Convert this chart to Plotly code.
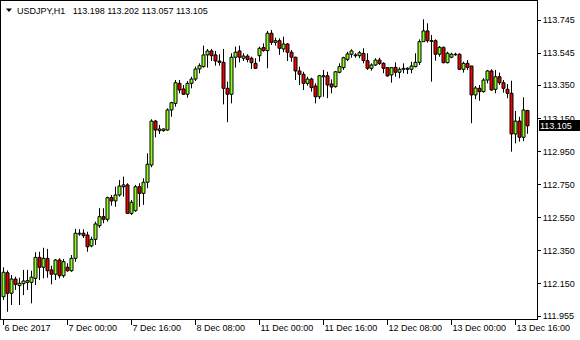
import plotly.graph_objects as go

# ---- data (USDJPY H1, bar index 0 = 6 Dec 2017 08:00) ----
opens = [112.072,112.217,112.093,112.179,112.139,112.151,112.159,112.159,112.183,112.310,
         112.250,112.304,112.234,112.208,112.294,112.199,112.250,112.229,112.304,112.451,
         112.456,112.445,112.379,112.419,112.501,112.556,112.540,112.671,112.651,112.687,
         112.737,112.748,112.576,112.592,112.737,112.697,112.764,112.868,113.134,113.076,
         113.076,113.080,113.201,113.241,113.362,113.328,113.296,113.362,113.388,113.449,
         113.463,113.534,113.558,113.534,113.497,113.489,113.332,113.296,113.520,113.558,
         113.514,113.527,113.514,113.483,113.529,113.578,113.560,113.665,113.610,113.620,
         113.570,113.600,113.550,113.520,113.437,113.417,113.362,113.388,113.346,113.281,
         113.402,113.408,113.358,113.342,113.429,113.457,113.507,113.538,113.529,113.529,
         113.543,113.499,113.453,113.473,113.503,113.483,113.457,113.413,113.459,113.429,
         113.447,113.447,113.447,113.463,113.489,113.614,113.679,113.620,113.620,113.538,
         113.580,113.487,113.520,113.535,113.538,113.447,113.483,113.467,113.292,113.332,
         113.312,113.382,113.437,113.326,113.402,113.366,113.326,113.302,113.056,113.134,
         113.036,113.198]
highs = [112.250,112.231,112.203,112.193,112.187,112.234,112.234,112.229,112.341,112.344,
         112.368,112.361,112.260,112.300,112.304,112.300,112.274,112.324,112.482,112.480,
         112.480,112.465,112.435,112.526,112.607,112.607,112.677,112.687,112.737,112.778,
         112.798,112.758,112.657,112.748,112.758,112.788,112.939,113.145,113.140,113.110,
         113.090,113.211,113.251,113.382,113.382,113.352,113.376,113.402,113.463,113.483,
         113.590,113.570,113.570,113.558,113.538,113.570,113.372,113.544,113.584,113.590,
         113.544,113.538,113.523,113.514,113.584,113.604,113.679,113.685,113.638,113.634,
         113.644,113.606,113.564,113.523,113.463,113.432,113.402,113.396,113.362,113.413,
         113.443,113.432,113.386,113.437,113.483,113.523,113.553,113.568,113.544,113.558,
         113.574,113.544,113.483,113.514,113.517,113.489,113.459,113.459,113.489,113.459,
         113.483,113.459,113.493,113.544,113.628,113.749,113.725,113.654,113.628,113.588,
         113.584,113.553,113.547,113.547,113.544,113.493,113.503,113.467,113.346,113.352,
         113.393,113.443,113.447,113.443,113.427,113.382,113.358,113.378,113.195,113.160,
         113.278,113.202]
lows = [112.052,111.981,112.022,112.113,112.022,112.082,112.113,112.032,112.143,112.173,
        112.183,112.187,112.147,112.173,112.183,112.187,112.223,112.223,112.284,112.441,
        112.427,112.344,112.371,112.385,112.488,112.516,112.526,112.622,112.616,112.677,
        112.677,112.572,112.566,112.586,112.616,112.627,112.728,112.855,113.036,113.056,
        113.070,113.076,113.160,113.221,113.302,113.292,113.275,113.332,113.376,113.423,
        113.457,113.457,113.497,113.469,113.469,113.235,113.127,113.241,113.457,113.489,
        113.497,113.489,113.449,113.449,113.493,113.553,113.453,113.594,113.590,113.534,
        113.550,113.497,113.493,113.382,113.352,113.322,113.348,113.312,113.241,113.267,
        113.281,113.272,113.302,113.336,113.423,113.443,113.497,113.517,113.517,113.514,
        113.483,113.443,113.439,113.467,113.473,113.423,113.402,113.366,113.402,113.393,
        113.423,113.419,113.423,113.459,113.473,113.614,113.608,113.372,113.499,113.523,
        113.483,113.483,113.514,113.529,113.443,113.427,113.443,113.121,113.266,113.257,
        113.306,113.362,113.318,113.302,113.352,113.306,113.272,112.949,112.999,113.010,
        113.013,113.057]
closes = [112.220,112.093,112.179,112.147,112.153,112.167,112.169,112.190,112.310,112.250,
          112.304,112.229,112.208,112.294,112.199,112.284,112.229,112.304,112.456,112.456,
          112.441,112.374,112.419,112.512,112.556,112.540,112.671,112.651,112.687,112.741,
          112.748,112.576,112.643,112.737,112.697,112.764,112.873,113.134,113.080,113.086,
          113.086,113.201,113.245,113.366,113.322,113.296,113.362,113.388,113.449,113.469,
          113.534,113.558,113.529,113.497,113.489,113.332,113.296,113.520,113.550,113.520,
          113.527,113.507,113.487,113.453,113.574,113.560,113.665,113.610,113.620,113.574,
          113.600,113.550,113.520,113.437,113.417,113.362,113.388,113.336,113.281,113.408,
          113.408,113.352,113.340,113.432,113.463,113.517,113.540,113.558,113.534,113.547,
          113.500,113.453,113.473,113.503,113.483,113.453,113.407,113.457,113.429,113.447,
          113.453,113.453,113.467,113.489,113.614,113.679,113.620,113.616,113.538,113.580,
          113.487,113.544,113.538,113.538,113.447,113.483,113.459,113.292,113.334,113.312,
          113.382,113.437,113.322,113.402,113.366,113.332,113.302,113.056,113.134,113.036,
          113.201,113.105]

bar_index = list(range(len(opens)))

x_tick_index = [0, 16, 32, 48, 64, 80, 96, 112, 128]
x_tick_labels = ["6 Dec 2017", "7 Dec 00:00", "7 Dec 16:00", "8 Dec 08:00", "11 Dec 00:00",
                 "11 Dec 16:00", "12 Dec 08:00", "13 Dec 00:00", "13 Dec 16:00"]
y_tick_values = [111.955, 112.150, 112.350, 112.550, 112.750, 112.950, 113.150, 113.350, 113.545, 113.745]

symbol = "USDJPY,H1"
last_ohlc = [113.198, 113.202, 113.057, 113.105]

FONT = "Liberation Sans"
BULL = "#8cff1a"
BEAR = "#ee0000"

# candle bodies (bars from min(open, close) to max(open, close))
body_base = [min(o, c) for o, c in zip(opens, closes)]
body_height = [abs(c - o) for o, c in zip(opens, closes)]
body_color = [BULL if c > o else BEAR for o, c in zip(opens, closes)]

# wick segments: high down to body top, body bottom down to low
wx, wy = [], []
for i, o, h, l, c in zip(bar_index, opens, highs, lows, closes):
    top, bot = max(o, c), min(o, c)
    wx += [i, i, None, i, i, None]
    wy += [h, top, None, bot, l, None]

fig = go.Figure()
fig.add_trace(go.Bar(
    x=bar_index, y=body_height, base=body_base, width=0.75,
    marker=dict(color=body_color, line=dict(color="black", width=1)),
    hoverinfo="skip", showlegend=False,
))
fig.add_trace(go.Scatter(
    x=wx, y=wy, mode="lines", line=dict(color="black", width=1),
    hoverinfo="skip", showlegend=False,
))

fig.update_layout(
    width=580, height=340,
    margin=dict(l=1, r=43, t=1, b=21),
    paper_bgcolor="white", plot_bgcolor="white",
    font=dict(family=FONT, size=9, color="black"),
    showlegend=False,
    xaxis=dict(
        range=[-0.625, 133.375],
        showgrid=False, zeroline=False,
        showline=True, mirror=True, linecolor="black", linewidth=1,
        tickmode="array", tickvals=x_tick_index, ticktext=x_tick_labels,
        ticks="outside", ticklen=5, tickcolor="black", tickwidth=1,
        ticklabelposition="outside right",
        tickfont=dict(family=FONT, size=9, color="black"),
    ),
    yaxis=dict(
        range=[111.9373, 113.8599], side="right",
        showgrid=False, zeroline=False,
        showline=True, mirror=True, linecolor="black", linewidth=1,
        tickmode="array", tickvals=y_tick_values,
        ticktext=[f"{v:.3f}" for v in y_tick_values],
        ticks="outside", ticklen=3, tickcolor="black", tickwidth=1,
        tickfont=dict(family=FONT, size=9, color="black"),
    ),
)

# header: dropdown triangle + symbol and OHLC
fig.add_shape(type="path", xref="paper", yref="paper",
              path="M 0.0093,0.9764 L 0.0205,0.9764 L 0.0149,0.9654 Z",
              fillcolor="black", line=dict(color="black", width=0))
fig.add_annotation(
    xref="paper", yref="paper", x=0.027, y=0.9686, xanchor="left", yanchor="middle",
    text=symbol + "\u00a0\u00a0\u00a0" + " ".join(f"{v:.3f}" for v in last_ohlc),
    showarrow=False, font=dict(family=FONT, size=9, color="black"),
)
# last price label on the price scale
fig.add_annotation(
    xref="paper", yref="y", x=1, y=closes[-1], xanchor="left", yanchor="middle",
    text=f"{closes[-1]:.3f}", showarrow=False, xshift=2,
    bgcolor="black", borderwidth=0, borderpad=1, width=39, height=9, align="left",
    font=dict(family=FONT, size=9, color="white"),
)

fig.write_html("out.html")
